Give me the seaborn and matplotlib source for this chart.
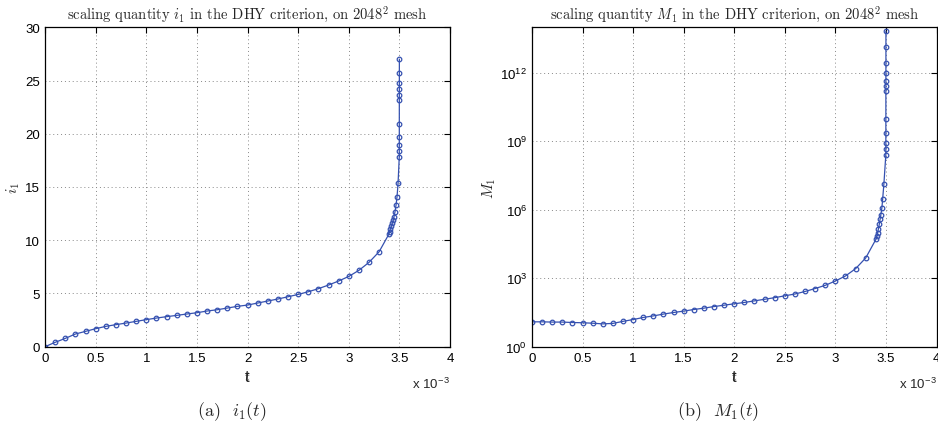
import matplotlib
matplotlib.use("Agg")
import matplotlib.pyplot as plt
import seaborn as sns
import numpy as np
import pandas as pd

# ---------------- data (t in units of 1e-3) ----------------
t_i1 = [0.0, 0.1, 0.2, 0.3, 0.4, 0.5, 0.6, 0.7, 0.8, 0.9, 1.0, 1.1, 1.2, 1.3, 1.4,
        1.5, 1.6, 1.7, 1.8, 1.9, 2.0, 2.1, 2.2, 2.3, 2.4, 2.5, 2.6, 2.7, 2.8, 2.9,
        3.0, 3.1, 3.2, 3.3,
        3.397, 3.404, 3.41, 3.42, 3.43, 3.44, 3.447, 3.457, 3.467, 3.477, 3.487,
        3.4990, 3.4991, 3.4992, 3.4993, 3.4994, 3.4995, 3.4996, 3.4997, 3.4998,
        3.4999, 3.5000]
i1 = [0.0, 0.41, 0.78, 1.19, 1.44, 1.69, 1.91, 2.07, 2.22, 2.38, 2.54, 2.69, 2.82,
      2.94, 3.07, 3.19, 3.35, 3.47, 3.63, 3.79, 3.91, 4.10, 4.29, 4.48, 4.69, 4.91,
      5.16, 5.45, 5.79, 6.17, 6.60, 7.17, 7.92, 8.92,
      10.58, 10.80, 11.05, 11.30, 11.61, 11.90, 12.21, 12.68, 13.30, 14.10, 15.34,
      17.84, 18.35, 18.94, 19.72, 20.90, 23.20, 23.65, 24.20, 24.80, 25.70, 27.00]

t_M1 = [0.0, 0.1, 0.2, 0.3, 0.4, 0.5, 0.6, 0.7, 0.8, 0.9, 1.0, 1.1, 1.2, 1.3, 1.4,
        1.5, 1.6, 1.7, 1.8, 1.9, 2.0, 2.1, 2.2, 2.3, 2.4, 2.5, 2.6, 2.7, 2.8, 2.9,
        3.0, 3.1, 3.2, 3.3,
        3.40, 3.41, 3.418, 3.426, 3.434, 3.442, 3.45, 3.46, 3.468, 3.48,
        3.4989, 3.4990, 3.4991, 3.4992, 3.4993, 3.4994, 3.4995, 3.4996, 3.4997,
        3.4998, 3.4999, 3.5000]
M1 = [12.3, 12.3, 12.0, 12.0, 11.5, 11.2, 10.7, 10.0, 10.5, 12.9, 15.5, 19.1, 22.4,
      26.9, 31.6, 36.3, 42.7, 49.0, 57.5, 66.1, 75.9, 87.1, 102, 120, 141, 170,
      204, 263, 355, 490, 759, 1259, 2630, 7760,
      5.0e4, 7.1e4, 1.0e5, 1.48e5, 2.29e5, 3.8e5, 6.17e5, 1.23e6, 3.09e6, 1.41e7,
      2.57e8, 4.57e8, 8.9e8, 2.29e9, 9.8e9, 1.62e11, 2.75e11, 4.57e11, 9.5e11,
      2.63e12, 1.32e13, 6.76e13]

x_ticks = [0, 0.5, 1, 1.5, 2, 2.5, 3, 3.5, 4]
x_ticklabels = ["0", "0.5", "1", "1.5", "2", "2.5", "3", "3.5", "4"]
i1_ticks = [0, 5, 10, 15, 20, 25, 30]
M1_ticks = [1e0, 1e3, 1e6, 1e9, 1e12]
M1_ticklabels = [r"$\mathregular{10^{0}}$", r"$\mathregular{10^{3}}$",
                 r"$\mathregular{10^{6}}$", r"$\mathregular{10^{9}}$",
                 r"$\mathregular{10^{12}}$"]

titles = [r"scaling quantity $i_1$ in the DHY criterion, on 2048$^2$ mesh",
          r"scaling quantity $M_1$ in the DHY criterion, on 2048$^2$ mesh"]
ylabels = [r"$i_1$", r"$M_1$"]
captions = [r"(a)  $i_1(t)$", r"(b)  $M_1(t)$"]

# ---------------- style ----------------
sns.set_theme(style="white")
plt.rcParams["font.family"] = ["Liberation Sans", "DejaVu Sans"]
plt.rcParams["mathtext.fontset"] = "cm"

line_color = "#3551b0"

fig = plt.figure(figsize=(9.38, 4.27), dpi=100)
W, H = 938, 427
def ax_rect(x0, x1, y0, y1):
    return [x0 / W, 1 - y1 / H, (x1 - x0) / W, (y1 - y0) / H]

AX_TOP, AX_BOT = 28.3, 347.7
AX_H = AX_BOT - AX_TOP
ax1 = fig.add_axes(ax_rect(45, 450, AX_TOP, AX_BOT))
ax2 = fig.add_axes(ax_rect(532, 936.5, AX_TOP, AX_BOT))

df1 = pd.DataFrame({"t": t_i1, "v": i1})
df2 = pd.DataFrame({"t": t_M1, "v": M1})

for ax, df in ((ax1, df1), (ax2, df2)):
    sns.lineplot(data=df, x="t", y="v", ax=ax, sort=False, estimator=None,
                 color=line_color, lw=0.9, marker="o", markersize=3.3,
                 markerfacecolor="none", markeredgecolor=line_color,
                 markeredgewidth=0.9)

ax2.set_yscale("log")

ax1.set_xlim(0, 4)
ax1.set_ylim(0, 30)
ax2.set_xlim(0, 4)
ax2.set_ylim(1, 1e14)

ax1.set_yticks(i1_ticks)
ax1.set_yticklabels([str(v) for v in i1_ticks])
ax2.set_yticks(M1_ticks)
ax2.set_yticklabels(M1_ticklabels)
ax2.yaxis.set_minor_locator(matplotlib.ticker.NullLocator())

def y_frac(py):
    return (AX_BOT - py) / AX_H

for k, ax in enumerate((ax1, ax2)):
    ax.set_xticks(x_ticks)
    ax.set_xticklabels(x_ticklabels)
    ax.tick_params(axis="both", which="major", direction="in", length=4,
                   width=0.8, top=True, right=True, labelsize=9.5,
                   colors="black", pad=3.5)
    ax.grid(True, linestyle=(0, (1, 3)), color="#888888", lw=0.7)
    for s in ax.spines.values():
        s.set_color("black")
        s.set_linewidth(0.9)
        s.set_visible(True)
    ax.set_title(titles[k], fontfamily="cmr10", fontsize=10.5, pad=7)
    ax.text(0.5, y_frac(378), r"$t$", transform=ax.transAxes,
            ha="center", va="center", fontsize=9.5, fontfamily="cmr10")
    ax.set_ylabel(ylabels[k], fontsize=11, labelpad=2)
    ax.text(1.0, y_frac(384), r"x 10$^{\mathregular{-3}}$", transform=ax.transAxes,
            ha="right", va="center", fontsize=9.5)
    ax.text(0.46, y_frac(412), captions[k], transform=ax.transAxes, ha="center",
            va="center", fontfamily="cmr10", fontsize=13)

fig.savefig("out.png", dpi=100)
